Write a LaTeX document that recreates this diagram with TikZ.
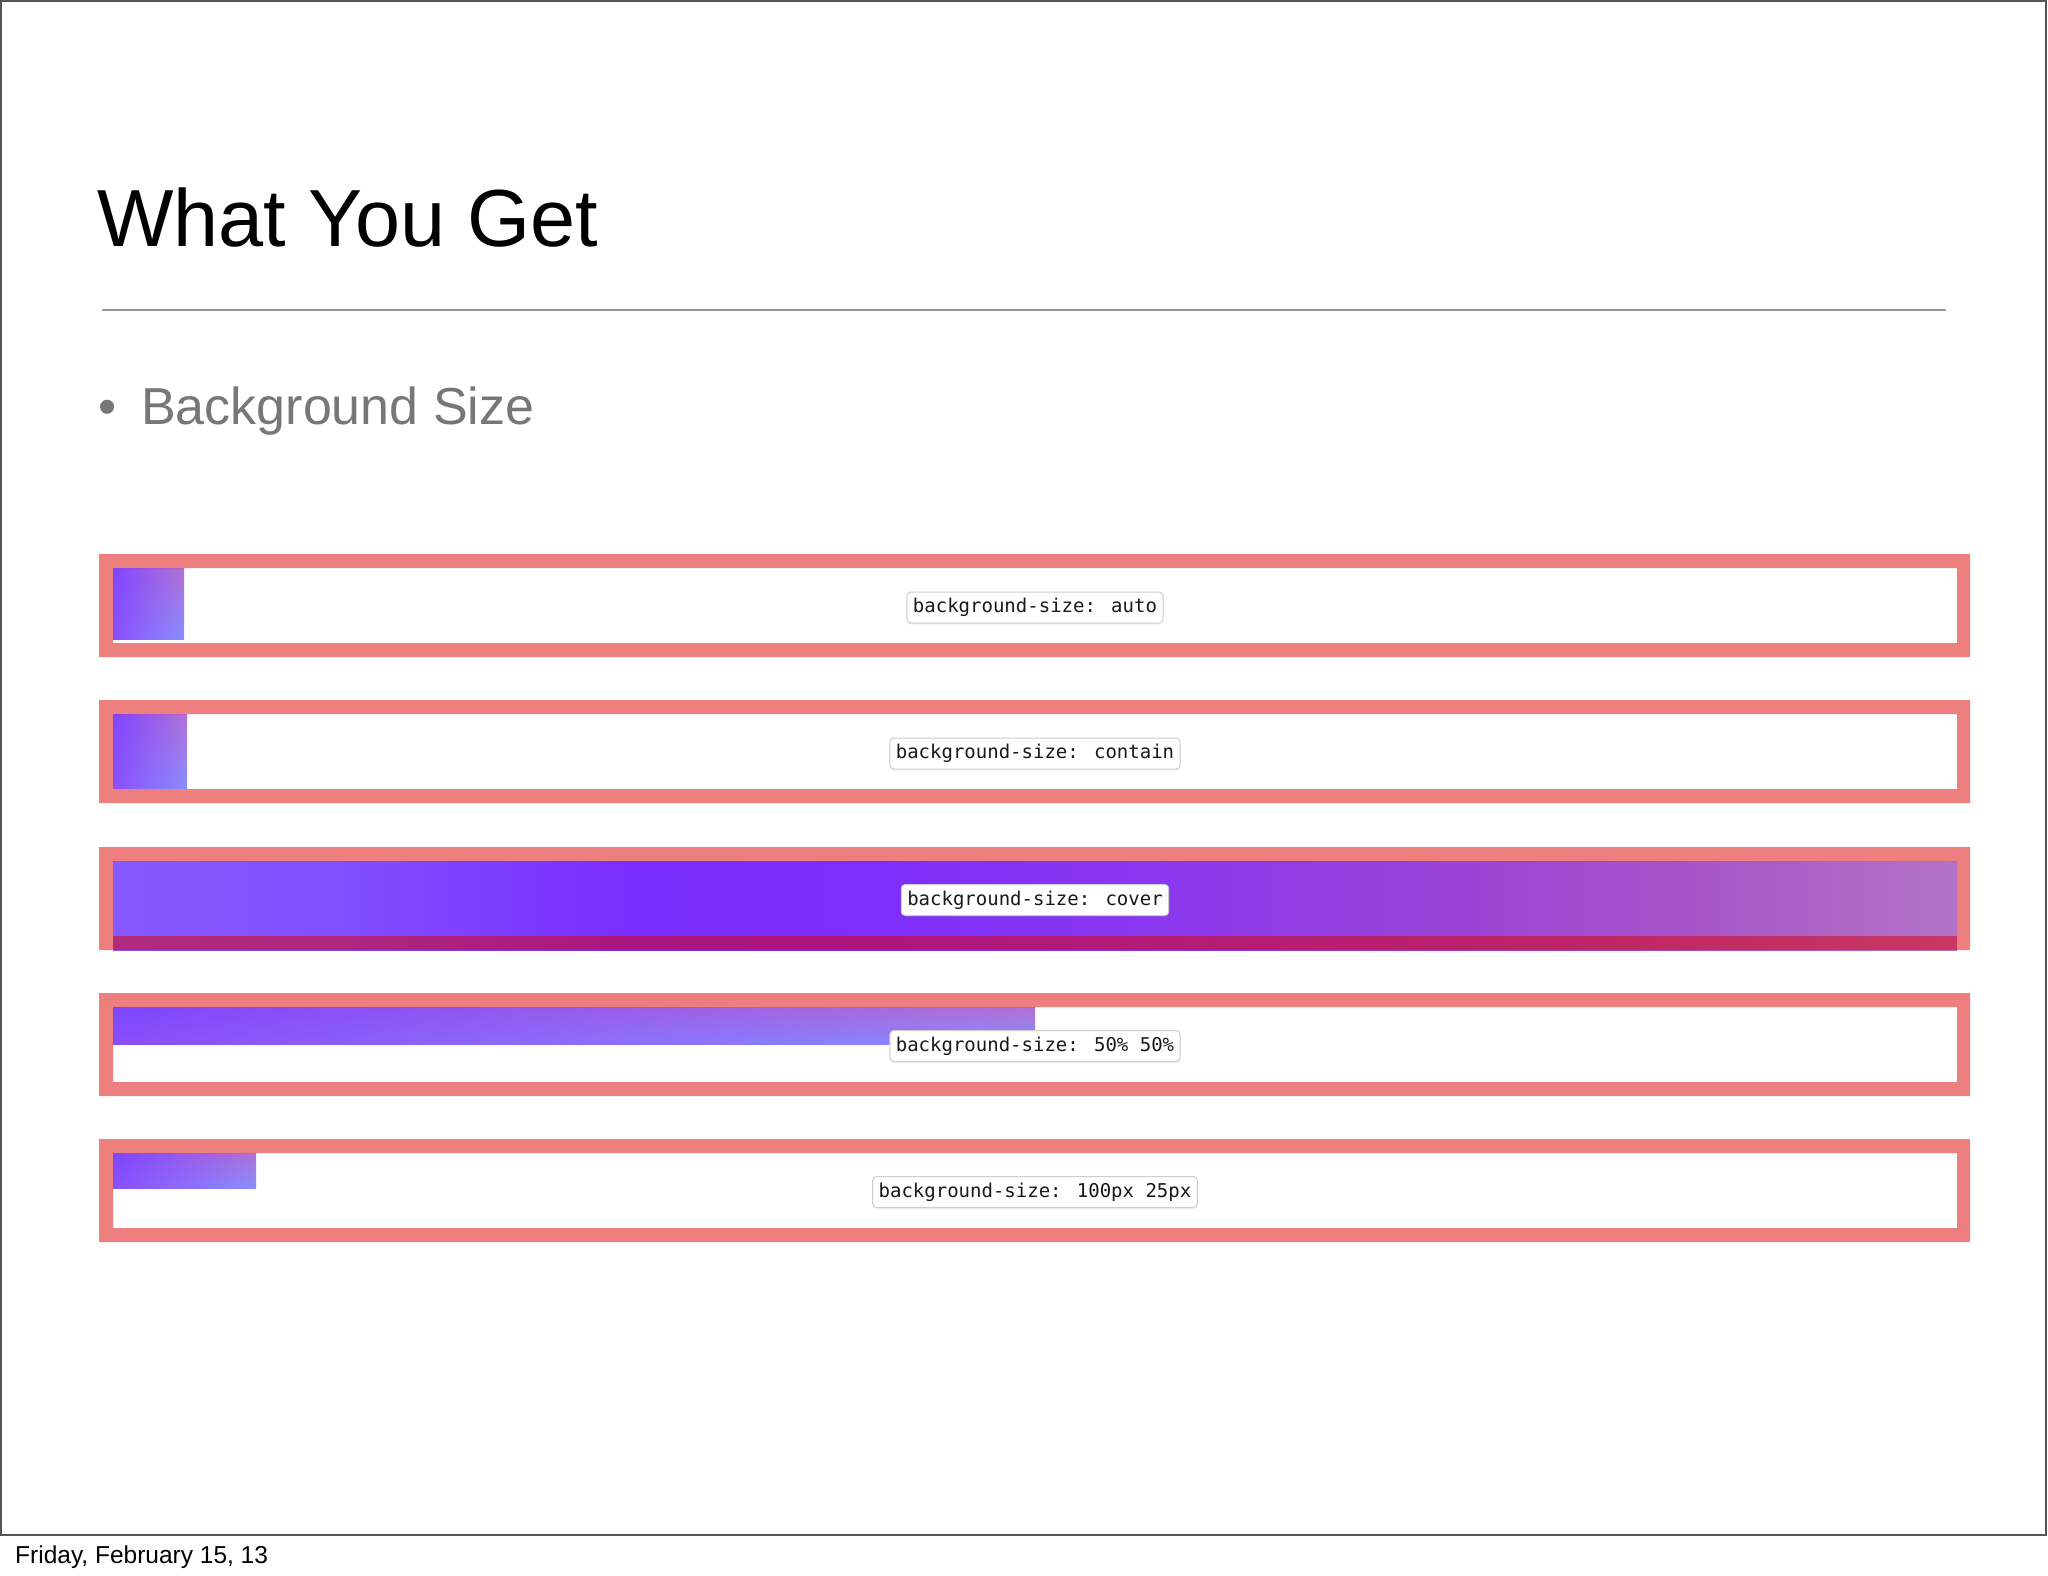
\documentclass[tikz,border=0pt]{standalone}
\usepackage{fontspec}
\setmainfont{Liberation Sans}
\newfontfamily\monof{DejaVu Sans Mono}
\usetikzlibrary{shadows,shadings}
\definecolor{framered}{RGB}{220,0,0}
\definecolor{rulegray}{RGB}{150,150,150}
\definecolor{bulletgray}{RGB}{119,119,119}
\definecolor{edgegray}{RGB}{85,85,85}
\definecolor{lblborder}{RGB}{205,205,205}
\definecolor{lbltext}{RGB}{25,25,25}
\definecolor{imgA}{RGB}{125,70,255}
\definecolor{imgB}{RGB}{178,112,212}
\definecolor{imgC}{RGB}{140,78,250}
\definecolor{imgD}{RGB}{136,142,255}
\pgfdeclarehorizontalshading{coverimg}{100bp}{rgb(0bp)=(0.522,0.345,1); rgb(25bp)=(0.522,0.345,1); rgb(31bp)=(0.51,0.31,1); rgb(39bp)=(0.478,0.176,1); rgb(45bp)=(0.49,0.176,0.99); rgb(53bp)=(0.54,0.216,0.94); rgb(62bp)=(0.61,0.267,0.83); rgb(68bp)=(0.66,0.333,0.784); rgb(75bp)=(0.70,0.45,0.776); rgb(100bp)=(0.70,0.45,0.776)}
\tikzset{
  lbl/.style={font=\monof\fontsize{19}{22}\selectfont, text=lbltext, fill=white, draw=lblborder, line width=1pt, rounded corners=4pt, inner xsep=6pt, inner ysep=0pt, minimum height=31pt, drop shadow={opacity=0.12, shadow xshift=0pt, shadow yshift=-1.5pt}},
  frame/.style={fill=framered, fill opacity=0.5, even odd rule},
  smallimg/.style={upper left=imgA, upper right=imgB, lower left=imgC, lower right=imgD},
  plain/.style={anchor=base west, inner sep=0pt}
}
\begin{document}
\begin{tikzpicture}[x=1pt, y=-1pt]
\useasboundingbox (0,0) rectangle (2048,1576);
\fill[white] (0,0) rectangle (2048,1576);
\draw[edgegray, line width=2pt] (1,1) rectangle (2046,1535);
% title
\node[plain, font=\fontsize{81}{96}\selectfont] (title) at (97,246) {What You Get};
\draw[rulegray, line width=2pt] (102,310) -- (1946,310);
\node[plain, text=bulletgray, font=\fontsize{52}{64}\selectfont] (bullet) at (98,424) {•};
\node[plain, text=bulletgray, font=\fontsize{52}{64}\selectfont] (sub) at (141,424) {Background Size};
% images
\shade[smallimg] (113,568) rectangle (184,639);
\shade[smallimg] (113,714) rectangle (187,788);
\shade[shading=coverimg] (113,861) rectangle (1957,950);
\shade[smallimg] (113,1007) rectangle (1035,1044);
\shade[smallimg] (113,1153) rectangle (256,1188);
% frames
\foreach \t in {554,700,847,993,1139} {
  \fill[frame] (99,\t) rectangle (1970,{\t+103}) (113,{\t+14}) rectangle (1957,{\t+89});
}
% labels
\node[lbl] (l1) at (1035,607.5) {background-size: auto};
\node[lbl] (l2) at (1035,753.5) {background-size: contain};
\node[lbl] (l3) at (1035,900) {background-size: cover};
\node[lbl] (l4) at (1035,1046) {background-size: 50\% 50\%};
\node[lbl] (l5) at (1035,1192) {background-size: 100px 25px};
% footer
\node[plain, font=\fontsize{24.5}{28}\selectfont] (footer) at (15,1563) {Friday, February 15, 13};
\end{tikzpicture}
\end{document}
